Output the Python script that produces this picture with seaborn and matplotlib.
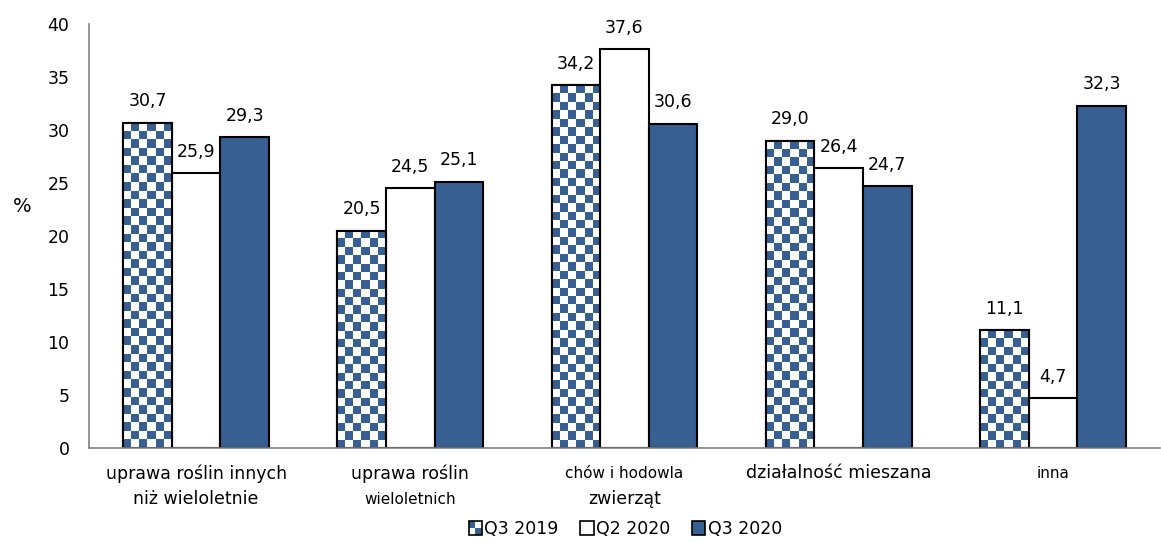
import numpy as np
import pandas as pd
import matplotlib
matplotlib.use("Agg")
import matplotlib.pyplot as plt
import matplotlib.patches as mpatches
from matplotlib.legend_handler import HandlerBase
import seaborn as sns

categories = ["uprawa roślin innych\nniż wieloletnie", "uprawa roślin\nwieloletnich",
              "chów i hodowla\nzwierząt", "działalność mieszana", "inna"]
series = ["Q3 2019", "Q2 2020", "Q3 2020"]
q3_2019 = [30.7, 20.5, 34.2, 29.0, 11.1]
q2_2020 = [25.9, 24.5, 37.6, 26.4, 4.7]
q3_2020 = [29.3, 25.1, 30.6, 24.7, 32.3]

BLUE = "#375F92"

df = pd.DataFrame({
    "cat": categories * 3,
    "series": [s for s in series for _ in categories],
    "val": q3_2019 + q2_2020 + q3_2020,
})

sns.set_style("white")
plt.rcParams["font.family"] = ["DejaVu Sans"]
plt.rcParams["text.color"] = "black"
plt.rcParams["ytick.color"] = "black"

fig = plt.figure(figsize=(11.61, 5.42), dpi=100)
ax = fig.add_axes([89 / 1161, 1 - 448 / 542, (1160 - 89) / 1161, (448 - 24) / 542])

sns.barplot(data=df, x="cat", y="val", hue="series", order=categories, hue_order=series,
            palette=["white", "white", BLUE], saturation=1, width=0.68, edgecolor="black",
            linewidth=1.5, legend=False, ax=ax)
ax.set_ylim(0, 40)
ax.set_xlim(-0.5, 4.5)
ax.set_yticks(range(0, 41, 5))
ax.tick_params(axis="y", labelsize=12.5, length=0, pad=14, labelcolor="black")
ax.set_xticks(range(5))
ax.set_xticklabels([])
ax.tick_params(axis="x", length=0)
ax.set_xlabel("")
ax.set_ylabel("%", rotation=0, fontsize=14, va="center", color="black")
ax.yaxis.set_label_coords(-0.062, 0.57)
for s in ["top", "right"]:
    ax.spines[s].set_visible(False)
for s in ["left", "bottom"]:
    ax.spines[s].set_color("#808080")
    ax.spines[s].set_linewidth(1.2)

# value labels
for cont in ax.containers:
    ax.bar_label(cont, labels=[f"{v:.1f}".replace(".", ",") for v in cont.datavalues],
                 padding=9, fontsize=12.5, color="black")

# checker pattern on Q3 2019 bars
sq = 8.5  # pixels per checker square
for bar in ax.containers[0]:
    x0, y0 = bar.get_x(), bar.get_y()
    x1, y1 = x0 + bar.get_width(), y0 + bar.get_height()
    (px0, py0), (px1, py1) = ax.transData.transform([(x0, y0), (x1, y1)])
    nx = max(1, int(round((px1 - px0) / sq)))
    ny = max(1, int(round((py1 - py0) / sq)))
    chk = (np.add.outer(np.arange(ny), np.arange(nx)) % 2).astype(float)
    ax.imshow(chk, extent=(x0, x1, y0, y1), cmap=matplotlib.colors.ListedColormap(["white", BLUE]),
              aspect="auto", interpolation="nearest", zorder=bar.get_zorder() + 0.1, origin="upper")
    ax.add_patch(mpatches.Rectangle((x0, y0), x1 - x0, y1 - y0, fill=False, edgecolor="black",
                                    linewidth=1.5, zorder=bar.get_zorder() + 0.2))
ax.set_xlim(-0.5, 4.5)
ax.set_ylim(0, 40)

# category labels with mixed sizes
lab_lines = [
    [("uprawa roślin innych", 12.5), ("niż wieloletnie", 12.5)],
    [("uprawa roślin", 12.5), ("wieloletnich", 11)],
    [("chów i hodowla", 11), ("zwierząt", 12.5)],
    [("działalność mieszana", 12.5)],
    [("inna", 11)],
]
for i, lines in enumerate(lab_lines):
    for j, (txt, fs) in enumerate(lines):
        ax.text(i, -2.4 - j * 2.45, txt, ha="center", va="center", fontsize=fs,
                transform=ax.transData, clip_on=False, color="black")


class CheckerHandler(HandlerBase):
    def create_artists(self, legend, orig_handle, xdescent, ydescent, width, height, fontsize, trans):
        s = min(width, height)
        x = -xdescent + width - s
        y = -ydescent
        arts = [mpatches.Rectangle((x, y), s, s, facecolor="white", edgecolor="none", transform=trans)]
        h = s / 2
        arts.append(mpatches.Rectangle((x, y + h), h, h, facecolor=BLUE, edgecolor="none", transform=trans))
        arts.append(mpatches.Rectangle((x + h, y), h, h, facecolor=BLUE, edgecolor="none", transform=trans))
        arts.append(mpatches.Rectangle((x, y), s, s, fill=False, edgecolor="black", linewidth=1.2,
                                       transform=trans))
        return arts


class SquareHandler(HandlerBase):
    def create_artists(self, legend, orig_handle, xdescent, ydescent, width, height, fontsize, trans):
        s = min(width, height)
        x = -xdescent + width - s
        return [mpatches.Rectangle((x, -ydescent), s, s, facecolor=orig_handle.get_facecolor(),
                                   edgecolor="black", linewidth=1.2, transform=trans)]


h0 = mpatches.Patch(facecolor="white", edgecolor="black")
h1 = mpatches.Patch(facecolor="white", edgecolor="black")
h2 = mpatches.Patch(facecolor=BLUE, edgecolor="black")
leg = fig.legend([h0, h1, h2], series, loc="center", bbox_to_anchor=(625 / 1161, 1 - 529 / 542),
                 ncol=3, frameon=False, fontsize=12.5, handlelength=0.8, handleheight=0.8,
                 handletextpad=0.15, columnspacing=1.2,
                 handler_map={h0: CheckerHandler(), h1: SquareHandler(), h2: SquareHandler()})
for t in leg.get_texts():
    t.set_color("black")

fig.savefig("out.png", dpi=100)
